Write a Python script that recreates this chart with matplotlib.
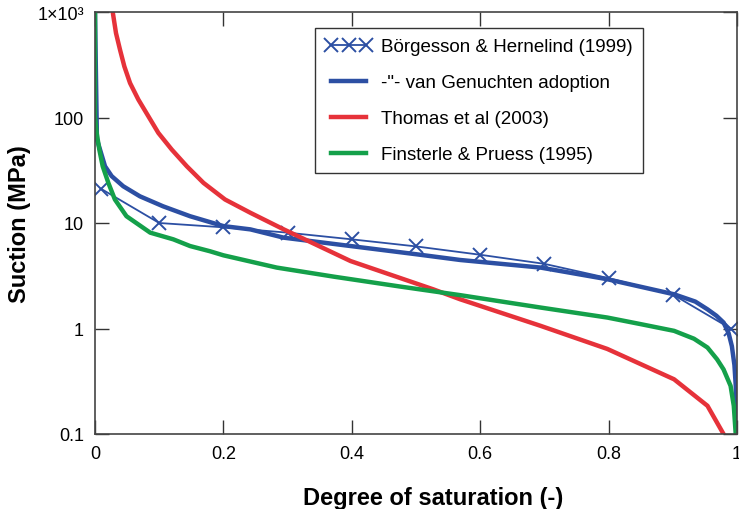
import numpy as np
import matplotlib.pyplot as plt
from matplotlib.ticker import FixedLocator, FixedFormatter, NullLocator

plt.rcParams['font.family'] = ['Liberation Sans', 'DejaVu Sans']

# measured points (Börgesson & Hernelind 1999)
borg_s = [0.01, 0.1, 0.2, 0.3, 0.4, 0.5, 0.6, 0.7, 0.8, 0.9, 0.99]
borg_psi = [21, 10, 9.1, 8.1, 7.0, 6.0, 5.0, 4.1, 3.0, 2.1, 1.0]

# van Genuchten adoption
vg_s = [0.0, 0.003, 0.0078, 0.0156, 0.026, 0.044, 0.07, 0.106, 0.148, 0.2,
        0.242, 0.294, 0.398, 0.501, 0.569, 0.694, 0.798, 0.902, 0.935, 0.954,
        0.968, 0.979, 0.987, 0.992, 0.996, 0.998, 1.0]
vg_psi = [1000, 62, 49.7, 34.5, 27.8, 22.3, 17.9, 14.4, 11.6, 9.35,
          8.7, 7.26, 6.05, 5.05, 4.46, 3.78, 2.93, 2.11, 1.8, 1.52,
          1.32, 1.14, 0.9, 0.68, 0.45, 0.29, 0.1]

# Thomas et al (2003)
th_s = [0.0276, 0.0327, 0.039, 0.0457, 0.0546, 0.0675, 0.083, 0.0987, 0.1195,
        0.143, 0.169, 0.2026, 0.242, 0.294, 0.398, 0.527, 0.569, 0.694,
        0.798, 0.902, 0.954, 0.979]
th_psi = [1000, 631, 438, 305, 212, 148, 103, 71.4, 49.7,
          34.5, 24, 16.7, 12.5, 8.7, 4.36, 2.35, 1.89, 1.06,
          0.64, 0.33, 0.185, 0.1]

# Finsterle & Pruess (1995)
fp_s = [0.0, 0.0, 0.0026, 0.0067, 0.012, 0.0208, 0.031, 0.049, 0.086, 0.122,
        0.148, 0.179, 0.2, 0.283, 0.372, 0.475, 0.569, 0.694, 0.798, 0.85,
        0.902, 0.933, 0.954, 0.969, 0.979, 0.99, 0.995, 0.998]
fp_psi = [1000, 102, 71.4, 49.7, 34.5, 24, 16.7, 11.6, 8.1, 7.0,
          6.05, 5.4, 4.94, 3.78, 3.1, 2.5, 2.07, 1.58, 1.27, 1.1,
          0.95, 0.8, 0.66, 0.51, 0.41, 0.286, 0.185, 0.1]

x_ticks = [0, 0.2, 0.4, 0.6, 0.8, 1]
x_labels = ['0', '0.2', '0.4', '0.6', '0.8', '1']
y_ticks = [0.1, 1, 10, 100, 1000]
y_labels = ['0.1', '1', '10', '100', '1×10³']

blue = '#2c4fa3'
red = '#e6323a'
green = '#14a04a'

fig = plt.figure(figsize=(7.39, 5.10), dpi=100)
ax = fig.add_axes([95/739, 75/510, 642/739, 422/510])

ax.plot(borg_s, borg_psi, color=blue, lw=1.3, marker='x', ms=10, mew=1.4,
        label='Börgesson & Hernelind (1999)')
ax.plot(vg_s, vg_psi, color=blue, lw=3.2, label='-"- van Genuchten adoption')
ax.plot(th_s, th_psi, color=red, lw=3.2, label='Thomas et al (2003)')
ax.plot(fp_s, fp_psi, color=green, lw=3.2, label='Finsterle & Pruess (1995)')

ax.set_yscale('log')
ax.set_xlim(0, 1)
ax.set_ylim(0.1, 1000)
ax.xaxis.set_major_locator(FixedLocator(x_ticks))
ax.xaxis.set_major_formatter(FixedFormatter(x_labels))
ax.yaxis.set_major_locator(FixedLocator(y_ticks))
ax.yaxis.set_major_formatter(FixedFormatter(y_labels))
ax.yaxis.set_minor_locator(NullLocator())
ax.tick_params(direction='in', length=10, width=1.0, color='#333333',
               top=True, right=True, labelsize=13, pad=8)

for sp in ax.spines.values():
    sp.set_color('#444444')
    sp.set_linewidth(1.2)

ax.set_xlabel('Degree of saturation (-)', fontsize=17, fontweight='bold')
ax.set_ylabel('Suction (MPa)', fontsize=17, fontweight='bold')
ax.xaxis.set_label_coords(0.526, -0.123)
ax.yaxis.set_label_coords(-0.099, 0.5)

leg = ax.legend(loc='upper right', bbox_to_anchor=(0.854, 0.962),
                borderaxespad=0, fontsize=13.5, fancybox=False,
                edgecolor='#333333', framealpha=1, handlelength=2.5,
                handletextpad=0.5, labelspacing=1.0, numpoints=3,
                borderpad=0.55)
leg.get_frame().set_linewidth(1.0)

fig.savefig('out.png', dpi=100)
